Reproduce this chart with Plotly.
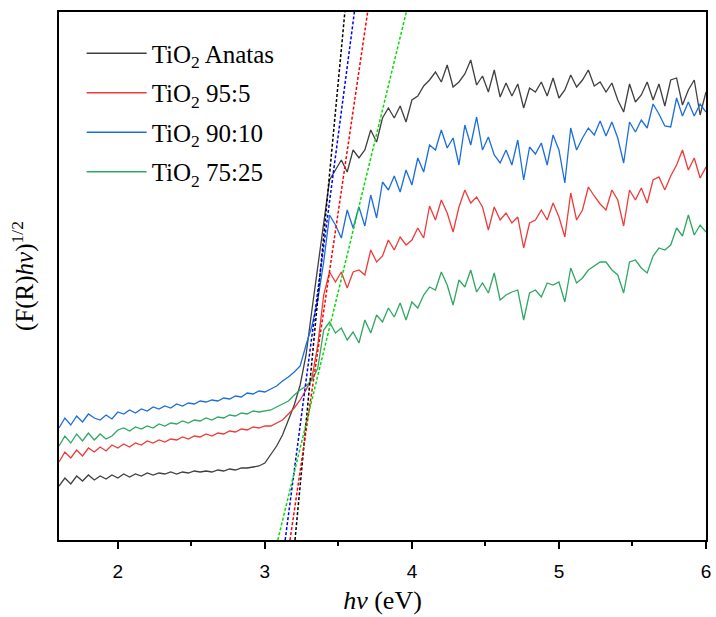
import plotly.graph_objects as go

# photon energy grid (eV)
hv = [1.60, 1.64, 1.68, 1.72, 1.76, 1.80, 1.84, 1.88, 1.92, 1.96,
      2.00, 2.04, 2.08, 2.12, 2.16, 2.20, 2.24, 2.28, 2.32, 2.36,
      2.40, 2.44, 2.48, 2.52, 2.56, 2.60, 2.64, 2.68, 2.72, 2.76,
      2.80, 2.84, 2.88, 2.92, 2.96, 3.00, 3.04, 3.08, 3.12, 3.16,
      3.20, 3.24, 3.28, 3.32, 3.36, 3.40, 3.44, 3.48, 3.52, 3.56,
      3.60, 3.64, 3.68, 3.72, 3.76, 3.80, 3.84, 3.88, 3.92, 3.96,
      4.00, 4.04, 4.08, 4.12, 4.16, 4.20, 4.24, 4.28, 4.32, 4.36,
      4.40, 4.44, 4.48, 4.52, 4.56, 4.60, 4.64, 4.68, 4.72, 4.76,
      4.80, 4.84, 4.88, 4.92, 4.96, 5.00, 5.04, 5.08, 5.12, 5.16,
      5.20, 5.24, 5.28, 5.32, 5.36, 5.40, 5.44, 5.48, 5.52, 5.56,
      5.60, 5.64, 5.68, 5.72, 5.76, 5.80, 5.84, 5.88, 5.92, 5.96,
      6.00]

anatas = [54, 62, 56, 64, 59, 65, 60, 64, 61, 65,
          62, 66, 63, 66, 64, 67, 65, 67, 66, 68,
          66, 68, 67, 69, 68, 69, 68, 70, 69, 71,
          70, 72, 72, 73, 74, 77, 85, 94, 105, 120,
          135, 155, 185, 230, 275, 320, 360, 370, 380, 368,
          390, 382, 390, 410, 398, 422, 432, 422, 434, 418,
          440, 444, 454, 460, 468, 458, 475, 453, 458, 466,
          480, 455, 464, 448, 470, 443, 457, 444, 456, 432,
          452, 448, 458, 444, 462, 442, 450, 465, 453, 460,
          470, 454, 458, 448, 457, 440, 428, 456, 438, 445,
          458, 440, 456, 434, 460, 462, 435, 450, 460, 425,
          448]

s95_5 = [78, 88, 82, 90, 84, 92, 88, 93, 89, 95,
         92, 96, 93, 97, 95, 99, 97, 100, 98, 101,
         100, 103, 101, 104, 103, 106, 104, 107, 106, 109,
         108, 111, 110, 113, 112, 114, 114, 117, 120, 126,
         132, 140, 150, 162, 195, 245, 268, 258, 268, 252,
         268, 270, 265, 290, 278, 284, 300, 290, 303, 295,
         300, 312, 302, 334, 320, 340, 327, 308, 333, 350,
         337, 343, 333, 310, 333, 320, 327, 317, 323, 292,
         317, 320, 330, 320, 337, 323, 303, 347, 320, 330,
         353, 344, 336, 330, 350, 340, 314, 350, 340, 352,
         337, 360, 363, 350, 364, 375, 390, 370, 382, 362,
         373]

s90_10 = [112, 122, 115, 124, 118, 126, 122, 120, 125, 121,
          128, 126, 130, 127, 131, 129, 133, 131, 134, 132,
          136, 134, 137, 136, 139, 138, 140, 139, 142, 141,
          144, 143, 147, 146, 149, 148, 151, 154, 159, 163,
          168, 174, 195, 214, 240, 278, 325, 315, 302, 330,
          312, 333, 314, 345, 322, 358, 350, 364, 348, 370,
          355, 382, 368, 395, 390, 410, 392, 402, 375, 415,
          395, 423, 390, 403, 385, 377, 390, 375, 400, 360,
          393, 386, 397, 375, 405, 390, 357, 412, 390, 402,
          412, 405, 419, 404, 418, 402, 377, 418, 408, 420,
          412, 436, 426, 414, 413, 442, 424, 438, 424, 436,
          428]

s75_25 = [94, 104, 97, 106, 99, 107, 100, 106, 101, 104,
          110, 112, 109, 113, 111, 114, 112, 116, 114, 117,
          116, 119, 117, 120, 119, 122, 120, 123, 122, 125,
          124, 127, 126, 129, 128, 129, 130, 133, 136, 139,
          145, 150, 154, 160, 172, 210, 218, 207, 212, 200,
          208, 197, 220, 207, 225, 218, 232, 223, 237, 220,
          238, 232, 245, 253, 250, 268, 255, 235, 260, 253,
          270, 248, 257, 247, 267, 240, 245, 248, 250, 220,
          247, 250, 243, 257, 255, 258, 238, 272, 257, 262,
          270, 274, 278, 278, 270, 265, 247, 278, 280, 272,
          267, 284, 292, 290, 295, 312, 304, 325, 305, 315,
          308]

series_names = ["TiO<sub>2</sub> Anatas", "TiO<sub>2</sub> 95:5",
                "TiO<sub>2</sub> 90:10", "TiO<sub>2</sub> 75:25"]
series_values = [anatas, s95_5, s90_10, s75_25]
series_colors = ["#404040", "#EE3B3B", "#1C6EDC", "#2FA865"]

# Tauc tangent lines: (x at bottom, x at top) of the plotted y range
y_range = [0, 528]
tangent_x = [[3.205, 3.544],   # Anatas
             [3.171, 3.699],   # 95:5
             [3.138, 3.609],   # 90:10
             [3.088, 3.962]]   # 75:25
tangent_colors = ["#000000", "#FF0000", "#0000FF", "#00DD00"]

fig = go.Figure()
for i, (name, vals, col) in enumerate(zip(series_names, series_values, series_colors)):
    fig.add_trace(go.Scatter(x=hv, y=vals, mode="lines", name=name,
                             legendgroup=f"g{i}",
                             line=dict(color=col, width=1.3)))

for tx, col in zip(tangent_x, tangent_colors):
    fig.add_trace(go.Scatter(x=tx, y=y_range, mode="lines", showlegend=False,
                             line=dict(color=col, width=1.5, dash="3px,2px")))

serif = "Liberation Serif, Times New Roman, serif"
fig.update_layout(
    width=716, height=617,
    margin=dict(l=59, r=5, t=12, b=77),
    plot_bgcolor="white", paper_bgcolor="white",
    showlegend=True,
    legend=dict(x=0.035, y=0.965, xanchor="left", yanchor="top",
                font=dict(family=serif, size=25, color="black"),
                bgcolor="rgba(0,0,0,0)", traceorder="grouped",
                tracegroupgap=4, itemwidth=60),
    xaxis=dict(range=[1.6, 6.0], tickvals=[2, 3, 4, 5, 6],
               showline=True, linecolor="black", linewidth=2, mirror=True,
               ticks="outside", ticklen=7, tickwidth=1.5, tickcolor="black",
               minor=dict(tickvals=[2.5, 3.5, 4.5, 5.5], ticks="outside",
                          ticklen=4, tickwidth=1.5, tickcolor="black"),
               showgrid=False, zeroline=False, ticklabelstandoff=6,
               tickfont=dict(family="Liberation Sans, Arial, sans-serif", size=19, color="black"),
               title=dict(text="<i>hv</i> (eV)", standoff=10,
                          font=dict(family=serif, size=26, color="black"))),
    yaxis=dict(range=y_range, showline=True, linecolor="black", linewidth=2,
               mirror=True, ticks="", showticklabels=False, showgrid=False,
               zeroline=False,
               title=dict(text="(F(R)<i>hv</i>)<sup>1/2</sup>", standoff=16,
                          font=dict(family=serif, size=25, color="black"))),
)

fig.write_html("out.html")
